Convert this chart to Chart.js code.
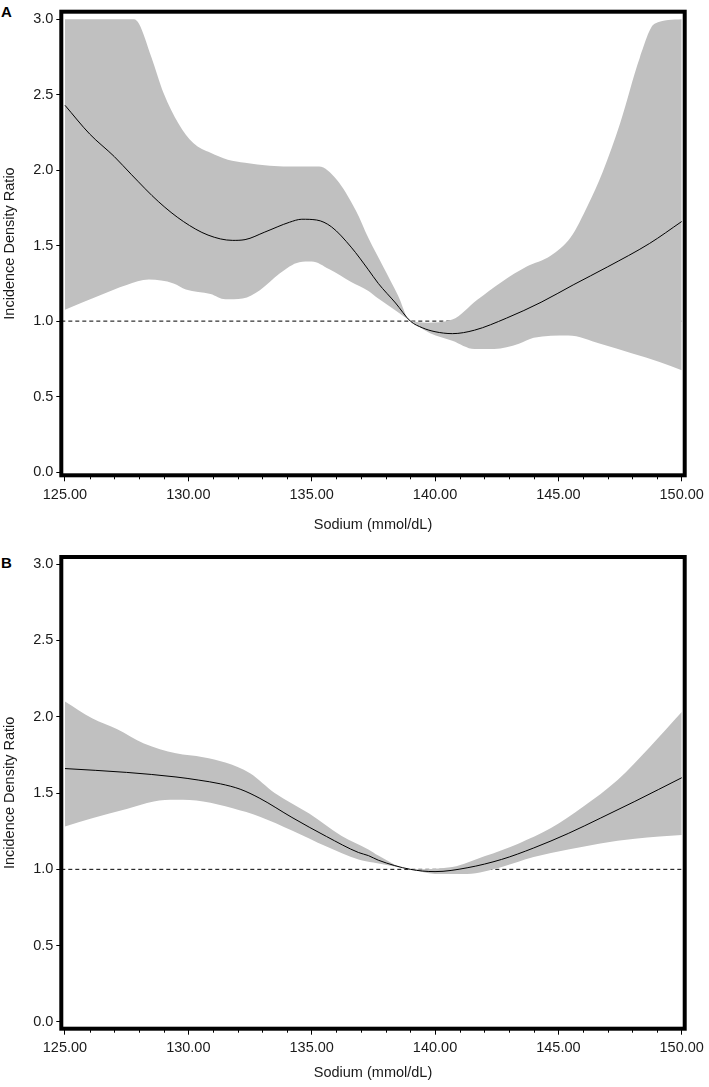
<!DOCTYPE html>
<html>
<head>
<meta charset="utf-8">
<script src="https://cdn.jsdelivr.net/npm/chart.js@4"></script>
<style>
  body { margin: 0; background: #fff; width: 709px; height: 1087px; position: relative; overflow: hidden; }
  canvas { position: absolute; left: 0; }
  .panel-tag { position: absolute; left: 1px; font: bold 15px 'Liberation Sans', Arial, sans-serif; line-height: 15px; color: #000; }
</style>
</head>
<body>
<div class="panel-tag" style="top:4px">A</div>
<div class="panel-tag" style="top:555px">B</div>
<canvas id="chartA" width="709" height="545" style="top:0"></canvas>
<canvas id="chartB" width="709" height="542" style="top:545px"></canvas>
<script>
// tick labels
const xTicks = [125, 130, 135, 140, 145, 150];
const yTicks = [0, 0.5, 1, 1.5, 2, 2.5, 3];
const refLine = 1.0;

// Panel A - estimate and 95% band
const aLineX = [125, 126, 127, 127.7, 128.8, 129.8, 130.8, 131.8, 132.3, 133.1, 134.1, 134.6, 135.2, 135.8, 136.6, 137.3, 137.7, 138.4, 139.0, 139.5, 140.0, 140.7, 141.6, 142.9, 144.3, 145.6, 147.0, 148.7, 150];
const aLineY = [2.43, 2.24, 2.09, 1.97, 1.79, 1.66, 1.57, 1.535, 1.54, 1.59, 1.655, 1.675, 1.67, 1.625, 1.49, 1.34, 1.25, 1.12, 1.0, 0.955, 0.93, 0.917, 0.94, 1.02, 1.125, 1.24, 1.36, 1.515, 1.66];
const aUpX = [125, 127.8, 128.0, 128.5, 129.0, 129.6, 130.2, 130.9, 131.6, 132.3, 133.3, 134.4, 135.3, 136.0, 136.8, 137.3, 137.9, 138.5, 139.0, 139.7, 140.7, 141.7, 142.7, 143.7, 144.7, 145.5, 146.2, 146.8, 147.5, 148.3, 148.9, 150];
const aUpY = [3.0, 3.0, 2.97, 2.75, 2.51, 2.31, 2.18, 2.115, 2.07, 2.05, 2.03, 2.025, 2.025, 1.94, 1.73, 1.55, 1.36, 1.17, 1.0, 0.99, 1.01, 1.14, 1.26, 1.36, 1.435, 1.555, 1.77, 1.99, 2.31, 2.745, 2.97, 3.0];
const aLoX = [125, 126.4, 127.5, 128.4, 129.4, 129.9, 130.9, 131.5, 132.2, 132.9, 133.7, 134.5, 135.0, 135.7, 136.6, 137.3, 137.7, 138.4, 139.0, 139.8, 140.7, 141.6, 142.4, 143.4, 144.0, 145.4, 146.7, 148.0, 149.1, 150];
const aLoY = [1.075, 1.17, 1.24, 1.275, 1.25, 1.21, 1.18, 1.145, 1.15, 1.205, 1.315, 1.39, 1.395, 1.345, 1.26, 1.2, 1.15, 1.07, 1.0, 0.92, 0.87, 0.815, 0.815, 0.85, 0.89, 0.905, 0.85, 0.785, 0.73, 0.675];

// Panel B
const bLineX = [125, 127.5, 129.5, 130.4, 131.3, 132.1, 132.9, 134.2, 135.6, 136.9, 137.3, 137.7, 139.0, 140.0, 141.3, 142.7, 144.0, 145.4, 146.7, 148.1, 150];
const bLineY = [1.66, 1.635, 1.605, 1.585, 1.56, 1.525, 1.465, 1.34, 1.215, 1.11, 1.09, 1.06, 1.0, 0.985, 1.01, 1.065, 1.14, 1.235, 1.335, 1.445, 1.6];
const bUpX = [125, 126.1, 127.1, 128.2, 129.5, 130.6, 131.5, 132.5, 133.5, 134.9, 136.2, 137.3, 137.7, 139.0, 140.7, 142.0, 143.4, 144.7, 146.0, 147.4, 148.7, 150];
const bUpY = [2.1, 1.99, 1.92, 1.825, 1.76, 1.735, 1.7, 1.63, 1.5, 1.365, 1.22, 1.13, 1.09, 1.0, 1.015, 1.085, 1.17, 1.27, 1.41, 1.585, 1.8, 2.03];
const bLoX = [125, 126.1, 127.5, 128.6, 129.5, 130.6, 131.8, 132.9, 134.2, 135.6, 136.9, 137.5, 139.0, 140.0, 141.3, 142.7, 144.0, 145.4, 146.7, 148.1, 149.1, 150];
const bLoY = [1.28, 1.335, 1.395, 1.445, 1.455, 1.445, 1.4, 1.345, 1.255, 1.15, 1.065, 1.045, 1.0, 0.97, 0.97, 1.015, 1.08, 1.13, 1.17, 1.2, 1.215, 1.225];

Chart.defaults.font.family = "'Liberation Sans', Arial, sans-serif";
Chart.defaults.font.size = 14.5;
Chart.defaults.color = '#1a1a1a';

const X_MIN = 124.851, X_MAX = 150.121;

const toPoints = (xs, ys) => xs.map((x, i) => ({ x, y: ys[i] }));

// thick box round the plot + small minor ticks on x
const framePlugin = {
    id: 'frame',
    afterDraw(chart) {
        const { ctx, chartArea: a, scales } = chart;
        ctx.save();
        ctx.strokeStyle = '#000';
        ctx.lineWidth = 1;
        for (let v = xTicks[0]; v <= xTicks[xTicks.length - 1]; v++) {
            if (xTicks.includes(v)) continue;
            const px = Math.round(scales.x.getPixelForValue(v)) + 0.5;
            ctx.beginPath();
            ctx.moveTo(px, a.bottom);
            ctx.lineTo(px, a.bottom + 4);
            ctx.stroke();
        }
        ctx.lineWidth = 4;
        ctx.strokeRect(a.left, a.top, a.right - a.left, a.bottom - a.top);
        ctx.restore();
    }
};

function createPanel(canvasId, line, upper, lower, cfg) {
    const ctx = document.getElementById(canvasId).getContext('2d');
    return new Chart(ctx, {
        type: 'line',
        data: {
            datasets: [
                { data: line, borderColor: '#000', borderWidth: 1, pointRadius: 0, cubicInterpolationMode: 'monotone', order: 0 },
                { data: upper, borderWidth: 0, borderColor: 'rgba(0,0,0,0)', backgroundColor: '#c0c0c0', pointRadius: 0, cubicInterpolationMode: 'monotone', fill: '+1', order: 1 },
                { data: lower, borderWidth: 0, borderColor: 'rgba(0,0,0,0)', pointRadius: 0, cubicInterpolationMode: 'monotone', order: 1 },
                { data: [{ x: X_MIN, y: refLine }, { x: X_MAX, y: refLine }], borderColor: '#000', borderWidth: 1, borderDash: [4, 3], pointRadius: 0, order: 3 }
            ]
        },
        options: {
            responsive: false,
            animation: false,
            devicePixelRatio: 1,
            layout: { padding: { top: cfg.padTop, right: 21, bottom: 0, left: 0 } },
            plugins: { legend: { display: false }, tooltip: { enabled: false } },
            scales: {
                x: {
                    type: 'linear',
                    min: X_MIN,
                    max: X_MAX,
                    afterBuildTicks: s => { s.ticks = xTicks.map(v => ({ value: v })); },
                    afterFit: s => { s.height = cfg.xHeight; },
                    border: { display: false },
                    grid: { drawOnChartArea: false, drawTicks: true, tickLength: 6, tickColor: '#000' },
                    ticks: { autoSkip: false, maxRotation: 0, padding: 5, callback: v => Number(v).toFixed(2) },
                    title: { display: true, text: 'Sodium (mmol/dL)', padding: { top: 0, bottom: cfg.xTitlePad } }
                },
                y: {
                    type: 'linear',
                    min: cfg.yMin,
                    max: cfg.yMax,
                    afterBuildTicks: s => { s.ticks = yTicks.map(v => ({ value: v })); },
                    afterFit: s => { s.width = 61.3; },
                    border: { display: false },
                    grid: { drawOnChartArea: false, drawTicks: true, tickLength: 5, tickColor: '#000' },
                    ticks: { autoSkip: false, padding: 3, callback: v => Number(v).toFixed(1) },
                    title: { display: true, text: 'Incidence Density Ratio', padding: { top: 1.2, bottom: 0 } }
                }
            }
        },
        plugins: [framePlugin]
    });
}

createPanel('chartA', toPoints(aLineX, aLineY), toPoints(aUpX, aUpY), toPoints(aLoX, aLoY),
    { padTop: 3.3, xHeight: 69.7, xTitlePad: 11.4, yMin: -0.0215, yMax: 3.0501 });
createPanel('chartB', toPoints(bLineX, bLineY), toPoints(bUpX, bUpY), toPoints(bLoX, bLoY),
    { padTop: 12, xHeight: 58.3, xTitlePad: 5.2, yMin: -0.0439, yMax: 3.0459 });
</script>
</body>
</html>
